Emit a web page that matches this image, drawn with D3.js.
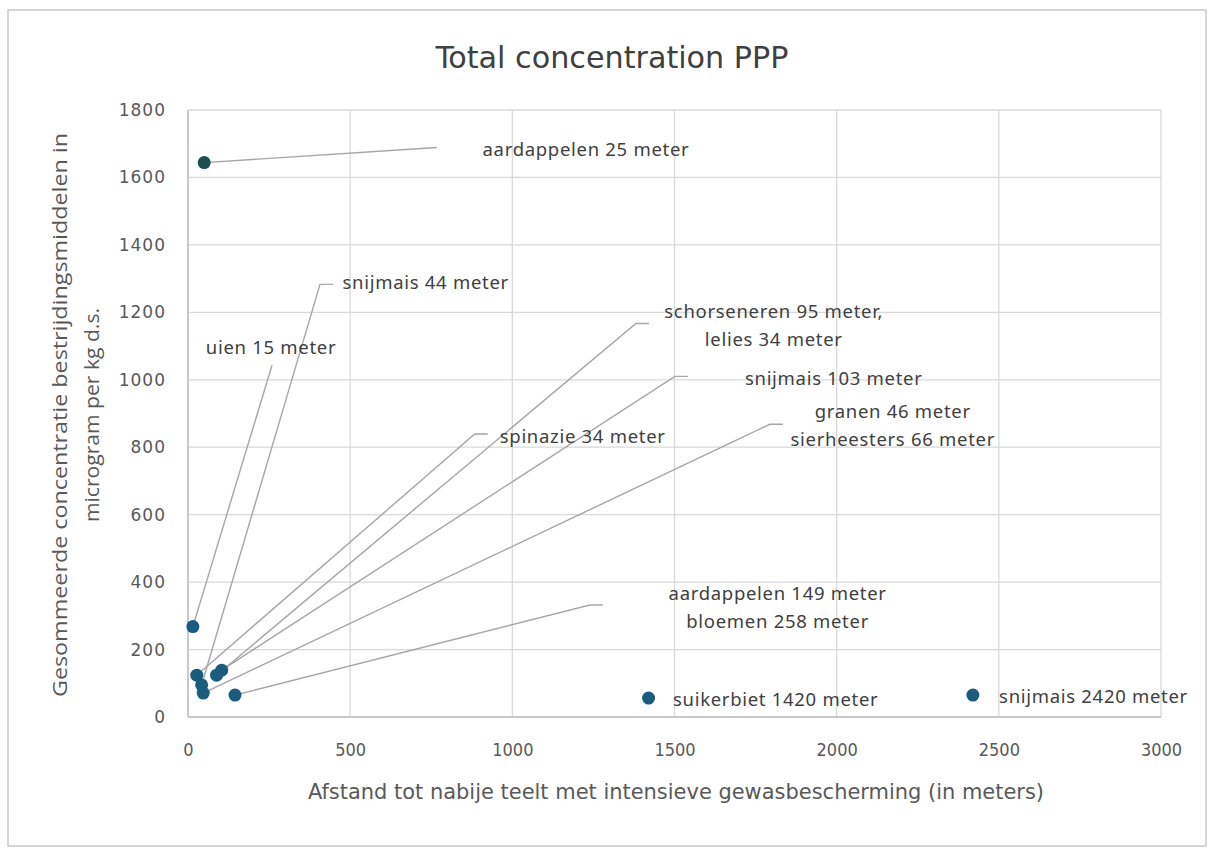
<!DOCTYPE html>
<html>
<head>
<meta charset="utf-8">
<script src="https://cdn.jsdelivr.net/npm/d3@7"></script>
<style>
  body { margin: 0; background: #fff; }
  svg { display: block; }
</style>
</head>
<body>
<script>
// data
const labels = [
  ["aardappelen 25 meter"],
  ["uien 15 meter"],
  ["snijmais 44 meter"],
  ["schorseneren 95 meter,", "lelies 34 meter"],
  ["spinazie 34 meter"],
  ["snijmais 103 meter"],
  ["granen 46 meter", "sierheesters 66 meter"],
  ["aardappelen 149 meter", "bloemen 258 meter"],
  ["suikerbiet 1420 meter"],
  ["snijmais 2420 meter"]
];
const distance = [50, 15, 42, 88, 27, 104, 47, 145, 1420, 2420];
const concentration = [1644, 268, 95, 124, 124, 139, 71, 65, 56, 65];

// where each data label sits (data units): text centre and leader-line end
const labelX = [1227, 256, 733, 1806, 1217, 1991, 2173, 1818, 1812, 2792];
const labelY = [1680, 1093, 1286, 1159, 830, 1001, 862, 323, 50, 59];
const leaderX = [767, 259, 407, 1381, 884, 1501, 1794, 1239, null, null];
const leaderY = [1689, 1043, 1283, 1167, 839, 1010, 868, 332, null, null];
const leaderTick = [false, false, true, true, true, true, true, true, false, false];

const xTicks = [0, 500, 1000, 1500, 2000, 2500, 3000];
const yTicks = [0, 200, 400, 600, 800, 1000, 1200, 1400, 1600, 1800];

const W = 1212, H = 849;
const svg = d3.select("body").append("svg").attr("width", W).attr("height", H);

// chart frame
svg.append("rect")
  .attr("x", 8).attr("y", 10).attr("width", 1198).attr("height", 836)
  .attr("fill", "#fff").attr("stroke", "#c8c8c8").attr("stroke-width", 1.5);

const x = d3.scaleLinear().domain([0, 3000]).range([188, 1161]);
const y = d3.scaleLinear().domain([0, 1800]).range([717, 110]);

const grid = "#d9d9d9";
const narrow = "'Liberation Sans Narrow', 'DejaVu Sans Condensed', 'Roboto', sans-serif";

// gridlines
svg.append("g").selectAll("line").data(yTicks).enter().append("line")
  .attr("x1", x(0)).attr("x2", x(3000))
  .attr("y1", d => y(d)).attr("y2", d => y(d))
  .attr("stroke", grid).attr("stroke-width", 1.3);
svg.append("g").selectAll("line").data(xTicks).enter().append("line")
  .attr("y1", y(0)).attr("y2", y(1800))
  .attr("x1", d => x(d)).attr("x2", d => x(d))
  .attr("stroke", grid).attr("stroke-width", 1.3);
// axis lines
svg.append("line").attr("x1", x(0)).attr("x2", x(3000)).attr("y1", y(0)).attr("y2", y(0))
  .attr("stroke", "#bfbfbf").attr("stroke-width", 1.5);
svg.append("line").attr("x1", x(0)).attr("x2", x(0)).attr("y1", y(0)).attr("y2", y(1800))
  .attr("stroke", "#bfbfbf").attr("stroke-width", 1.5);

// tick labels
const yAxis = d3.axisLeft(y).tickValues(yTicks).tickFormat(d3.format("d")).tickSize(0).tickPadding(22);
svg.append("g").attr("transform", `translate(${x(0)},0)`).call(yAxis)
  .call(g => g.select(".domain").remove())
  .selectAll("text")
  .attr("fill", "#595959")
  .style("font-family", "'DejaVu Sans', sans-serif")
  .style("font-size", "17px")
  .style("letter-spacing", "1px");

const xAxis = d3.axisBottom(x).tickValues(xTicks).tickFormat(d3.format("d")).tickSize(0).tickPadding(26);
svg.append("g").attr("transform", `translate(0,${y(0)})`).call(xAxis)
  .call(g => g.select(".domain").remove())
  .selectAll("text")
  .attr("fill", "#595959")
  .style("font-family", narrow)
  .style("font-size", "18px");

// titles
svg.append("text").attr("x", 612).attr("y", 68)
  .attr("text-anchor", "middle").attr("fill", "#404040")
  .style("font-family", narrow).style("font-size", "31px")
  .attr("textLength", 353).attr("lengthAdjust", "spacingAndGlyphs")
  .text("Total concentration PPP");

svg.append("text").attr("x", 676).attr("y", 799)
  .attr("text-anchor", "middle").attr("fill", "#595959")
  .style("font-family", narrow).style("font-size", "21px")
  .attr("textLength", 736).attr("lengthAdjust", "spacingAndGlyphs")
  .text("Afstand tot nabije teelt met intensieve gewasbescherming (in meters)");

const yTitle = svg.append("text")
  .attr("transform", "translate(0,415) rotate(-90)")
  .attr("text-anchor", "middle").attr("fill", "#595959")
  .style("font-family", "'Open Sans', sans-serif").style("font-size", "20px");
yTitle.append("tspan").attr("x", 0).attr("y", 67)
  .attr("textLength", 564).attr("lengthAdjust", "spacingAndGlyphs")
  .text("Gesommeerde concentratie bestrijdingsmiddelen in");
yTitle.append("tspan").attr("x", 0).attr("y", 99)
  .attr("textLength", 214).attr("lengthAdjust", "spacingAndGlyphs")
  .text("microgram per kg d.s.");

// leader lines
const idx = d3.range(distance.length);
svg.append("g").selectAll("polyline").data(idx.filter(i => leaderX[i] != null)).enter()
  .append("polyline")
  .attr("points", i => {
    const pts = [[x(distance[i]), y(concentration[i])], [x(leaderX[i]), y(leaderY[i])]];
    if (leaderTick[i]) pts.push([x(leaderX[i]) + 13, y(leaderY[i])]);
    return pts.map(p => p.join(",")).join(" ");
  })
  .attr("fill", "none").attr("stroke", "#a6a6a6").attr("stroke-width", 1.4);

// points
svg.append("g").selectAll("circle").data(idx).enter().append("circle")
  .attr("cx", i => x(distance[i]))
  .attr("cy", i => y(concentration[i]))
  .attr("r", 6.5)
  .attr("fill", i => i === 0 ? "#1d4f50" : "#1b5b7d");

// data labels
const lab = svg.append("g").selectAll("text").data(idx).enter().append("text")
  .attr("text-anchor", "middle").attr("fill", "#404040")
  .style("font-family", "'Noto Sans', sans-serif").style("font-size", "18.5px")
  .style("letter-spacing", "0.7px");
lab.each(function (i) {
  const t = d3.select(this);
  const n = labels[i].length;
  labels[i].forEach((s, k) => {
    t.append("tspan")
      .attr("x", x(labelX[i]))
      .attr("y", y(labelY[i]) + 6 + (k - (n - 1) / 2) * 28)
      .text(s);
  });
});
</script>
</body>
</html>
